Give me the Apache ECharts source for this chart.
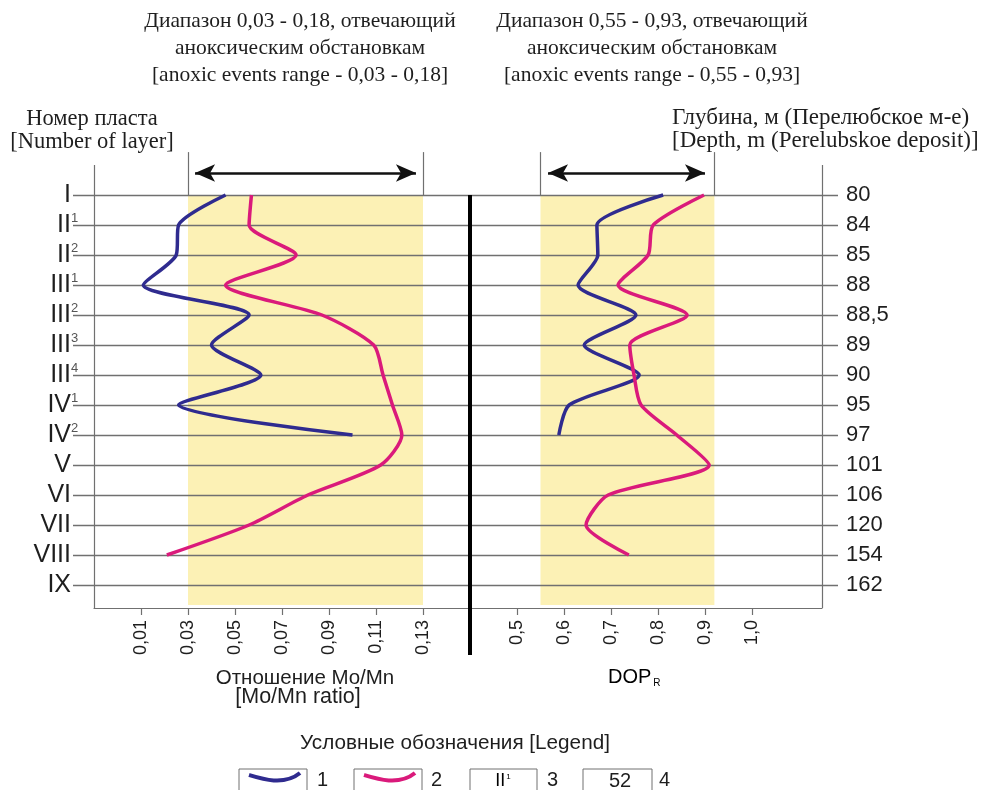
<!DOCTYPE html>
<html>
<head>
<meta charset="utf-8">
<script src="https://cdn.jsdelivr.net/npm/echarts@6/dist/echarts.min.js"></script>
<style>html,body{margin:0;padding:0;background:#fff}#c{width:982px;height:790px}</style>
</head>
<body>
<div id="c"></div>
<script>
// ---------- data ----------
const layerNames = ['I','II','II','III','III','III','III','IV','IV','V','VI','VII','VIII','IX'];
const layerSup   = ['','1','2','1','2','3','4','1','2','','','','',''];
const depthLabels = ['80','84','85','88','88,5','89','90','95','97','101','106','120','154','162'];

const moMnSeries1 = [0.046, 0.026, 0.025, 0.011, 0.056, 0.040, 0.061, 0.026, 0.100];
const moMnSeries2 = [0.057, 0.056, 0.076, 0.046, 0.087, 0.109, 0.113, 0.117, 0.121, 0.112, 0.081, 0.056, 0.021];
const dopSeries1  = [0.811, 0.670, 0.672, 0.630, 0.753, 0.643, 0.760, 0.611, 0.589];
const dopSeries2  = [0.898, 0.790, 0.779, 0.715, 0.862, 0.740, 0.749, 0.764, 0.840, 0.909, 0.694, 0.647, 0.738];

const moMnTicks = [0.01, 0.03, 0.05, 0.07, 0.09, 0.11, 0.13];
const dopTicks  = [0.5, 0.6, 0.7, 0.8, 0.9, 1.0];

const moMnBand  = [0.03, 0.13];
const dopBand   = [0.55, 0.92];
const moMnArrow = [0.033, 0.127];
const dopArrow  = [0.566, 0.900];

// ---------- styling / layout ----------
const BLUE = '#2f2b8f', RED = '#da1a7b', YELLOW = '#fcf1b5', GRID = '#707070', INK = '#1e1e1e';
const SANS = 'Liberation Sans', SERIF = 'Liberation Serif';
const Y_MIN = -1.5, Y_MAX = 13.7667;     // row units (row index), 30px per row
const FRAME_TOP = -1, TICK_TOP = -1.43, ARROW_ROW = -0.733, BAND_BOTTOM = 13.667;
const MO_MIN = -0.01, MO_MAX = 0.15, DOP_MIN = 0.4, DOP_MAX = 1.149;

function pts(arr){ return arr.map((v,i)=>[v,i]); }

function markers(band, arrow, xEdge){
  return {
    markArea: { silent:true, z:1, itemStyle:{color:YELLOW}, label:{show:false},
      data:[[{xAxis:band[0], yAxis:0},{xAxis:band[1], yAxis:BAND_BOTTOM}]] },
    markLine: { silent:true, symbol:['none','none'], label:{show:false}, emphasis:{disabled:true},
      lineStyle:{type:'solid', color:GRID, width:1.2},
      data:[
        [{coord:[arrow[0], ARROW_ROW], symbol:'arrow', symbolSize:[13,20], lineStyle:{color:'#111', width:2.5, type:'solid'}},
         {coord:[arrow[1], ARROW_ROW], symbol:'arrow', symbolSize:[13,20]}],
        [{coord:[band[0], TICK_TOP]},{coord:[band[0], 0]}],
        [{coord:[band[1], TICK_TOP]},{coord:[band[1], 0]}],
        [{coord:[xEdge, FRAME_TOP]},{coord:[xEdge, Y_MAX]}]
      ] }
  };
}

const lineBase = { type:'line', symbol:'none', smooth:0.25, z:3, clip:false, animation:false };

const option = {
  animation:false,
  backgroundColor:'#fff',
  grid:[
    {left:94, top:150, width:376, height:458},
    {left:470, top:150, width:352, height:458},
    {left:73, top:195, width:765, height:390}
  ],
  xAxis:[
    {type:'value', gridIndex:0, min:MO_MIN, max:MO_MAX, position:'bottom',
     axisLine:{show:true, onZero:false, lineStyle:{color:GRID, width:1.2}},
     axisTick:{show:true, customValues:moMnTicks, length:7, lineStyle:{color:GRID, width:1.2}},
     axisLabel:{customValues:moMnTicks, rotate:90, margin:12, fontFamily:SANS, fontSize:18, color:INK,
       formatter:v=>v.toFixed(2).replace('.',',')},
     splitLine:{show:false}},
    {type:'value', gridIndex:1, min:DOP_MIN, max:DOP_MAX, position:'bottom',
     axisLine:{show:true, onZero:false, lineStyle:{color:GRID, width:1.2}},
     axisTick:{show:true, customValues:dopTicks, length:7, lineStyle:{color:GRID, width:1.2}},
     axisLabel:{customValues:dopTicks, rotate:90, margin:12, fontFamily:SANS, fontSize:18, color:INK,
       formatter:v=>v.toFixed(1).replace('.',',')},
     splitLine:{show:false}},
    {type:'value', gridIndex:2, min:0, max:1, show:false}
  ],
  yAxis:[
    {type:'value', gridIndex:0, inverse:true, min:Y_MIN, max:Y_MAX, show:true,
     axisLine:{show:false}, axisTick:{show:false}, axisLabel:{show:false}, splitLine:{show:false}},
    {type:'value', gridIndex:1, inverse:true, min:Y_MIN, max:Y_MAX, show:true,
     axisLine:{show:false}, axisTick:{show:false}, axisLabel:{show:false}, splitLine:{show:false}},
    {type:'value', gridIndex:2, inverse:true, min:0, max:layerNames.length-1, interval:1, position:'left', z:2,
     axisLine:{show:false}, axisTick:{show:false},
     splitLine:{show:true, lineStyle:{color:GRID, width:1.3}},
     axisLabel:{margin:-2, formatter:v=>{ const i=Math.round(v); return layerSup[i] ? '{n|'+layerNames[i]+'}{s|'+layerSup[i]+'}' : '{n|'+layerNames[i]+'}{e|}'; },
       rich:{ n:{fontFamily:SANS, fontSize:25, color:INK},
              s:{fontFamily:SANS, fontSize:13, color:'#555', width:1, align:'left', padding:[0,0,14,3]},
              e:{width:1, padding:[0,0,0,3]} } }},
    {type:'value', gridIndex:2, inverse:true, min:0, max:depthLabels.length-1, interval:1, position:'right', z:2,
     axisLine:{show:false}, axisTick:{show:false}, splitLine:{show:false},
     axisLabel:{margin:8, fontFamily:SANS, fontSize:22, color:INK, formatter:v=>depthLabels[Math.round(v)]}}
  ],
  series:[
    Object.assign({}, lineBase, {name:'1', xAxisIndex:0, yAxisIndex:0, data:pts(moMnSeries1), lineStyle:{color:BLUE, width:3.5}}),
    Object.assign({}, lineBase, {name:'2', xAxisIndex:0, yAxisIndex:0, data:pts(moMnSeries2), lineStyle:{color:RED, width:3.5}}, markers(moMnBand, moMnArrow, MO_MIN)),
    Object.assign({}, lineBase, {name:'1', xAxisIndex:1, yAxisIndex:1, data:pts(dopSeries1), lineStyle:{color:BLUE, width:3.5}}),
    Object.assign({}, lineBase, {name:'2', xAxisIndex:1, yAxisIndex:1, data:pts(dopSeries2), lineStyle:{color:RED, width:3.5}}, markers(dopBand, dopArrow, DOP_MAX))
  ],
  graphic:[
    {type:'line', z:10, shape:{x1:470, y1:195, x2:470, y2:655}, style:{stroke:'#000', lineWidth:4}},
    {type:'text', x:300, y:8, style:{text:'Диапазон 0,03 - 0,18, отвечающий\nаноксическим обстановкам\n[anoxic events range - 0,03 - 0,18]',
      fontFamily:SERIF, fontSize:21.5, lineHeight:27, fill:INK, align:'center', verticalAlign:'top'}},
    {type:'text', x:652, y:8, style:{text:'Диапазон 0,55 - 0,93, отвечающий\nаноксическим обстановкам\n[anoxic events range - 0,55 - 0,93]',
      fontFamily:SERIF, fontSize:21.5, lineHeight:27, fill:INK, align:'center', verticalAlign:'top'}},
    {type:'text', x:92, y:108, style:{text:'Номер пласта\n[Number of layer]', fontFamily:SERIF, fontSize:22.5, lineHeight:23, fill:INK, align:'center', verticalAlign:'top'}},
    {type:'text', x:672, y:106, style:{text:'Глубина, м (Перелюбское м-е)\n[Depth, m (Perelubskoe deposit)]', fontFamily:SERIF, fontSize:23, lineHeight:23, fill:INK, align:'left', verticalAlign:'top'}},
    {type:'text', x:305, y:678, style:{text:'Отношение Mo/Mn', fontFamily:SANS, fontSize:20.5, fill:INK, align:'center', verticalAlign:'middle'}},
    {type:'text', x:298, y:697, style:{text:'[Mo/Mn ratio]', fontFamily:SANS, fontSize:21.5, fill:INK, align:'center', verticalAlign:'middle'}},
    {type:'text', x:608, y:677, style:{text:'{a|DOP}{b|R}', align:'left', verticalAlign:'middle',
      rich:{a:{fontFamily:SANS, fontSize:20, color:INK}, b:{fontFamily:SANS, fontSize:10, color:INK, padding:[12,0,0,2]}}}},
    {type:'text', x:455, y:743, style:{text:'Условные обозначения [Legend]', fontFamily:SANS, fontSize:20.7, fill:INK, align:'center', verticalAlign:'middle'}},
    {type:'rect', shape:{x:239, y:769, width:68, height:30}, style:{fill:'#fff', stroke:GRID, lineWidth:1}},
    {type:'bezierCurve', shape:{x1:249, y1:775, cpx1:262, cpy1:779, cpx2:284, cpy2:786, x2:300, y2:773}, style:{stroke:BLUE, lineWidth:4, fill:null}},
    {type:'text', x:317, y:780, style:{text:'1', fontFamily:SANS, fontSize:20, fill:INK, align:'left', verticalAlign:'middle'}},
    {type:'rect', shape:{x:354, y:769, width:68, height:30}, style:{fill:'#fff', stroke:GRID, lineWidth:1}},
    {type:'bezierCurve', shape:{x1:364, y1:775, cpx1:377, cpy1:779, cpx2:399, cpy2:786, x2:415, y2:773}, style:{stroke:RED, lineWidth:4, fill:null}},
    {type:'text', x:431, y:780, style:{text:'2', fontFamily:SANS, fontSize:20, fill:INK, align:'left', verticalAlign:'middle'}},
    {type:'rect', shape:{x:470, y:769, width:67, height:30}, style:{fill:'#fff', stroke:GRID, lineWidth:1}},
    {type:'text', x:503, y:781, style:{text:'{n|II}{s|1}', align:'center', verticalAlign:'middle',
      rich:{n:{fontFamily:SANS, fontSize:18, color:INK}, s:{fontFamily:SANS, fontSize:8, color:INK, padding:[0,0,9,1]}}}},
    {type:'text', x:547, y:780, style:{text:'3', fontFamily:SANS, fontSize:20, fill:INK, align:'left', verticalAlign:'middle'}},
    {type:'rect', shape:{x:583, y:769, width:69, height:30}, style:{fill:'#fff', stroke:GRID, lineWidth:1}},
    {type:'text', x:620, y:781, style:{text:'52', fontFamily:SANS, fontSize:20, fill:INK, align:'center', verticalAlign:'middle'}},
    {type:'text', x:659, y:780, style:{text:'4', fontFamily:SANS, fontSize:20, fill:INK, align:'left', verticalAlign:'middle'}}
  ]
};

const chart = echarts.init(document.getElementById('c'), null, {renderer:'canvas'});
chart.setOption(option);
</script>
</body>
</html>
